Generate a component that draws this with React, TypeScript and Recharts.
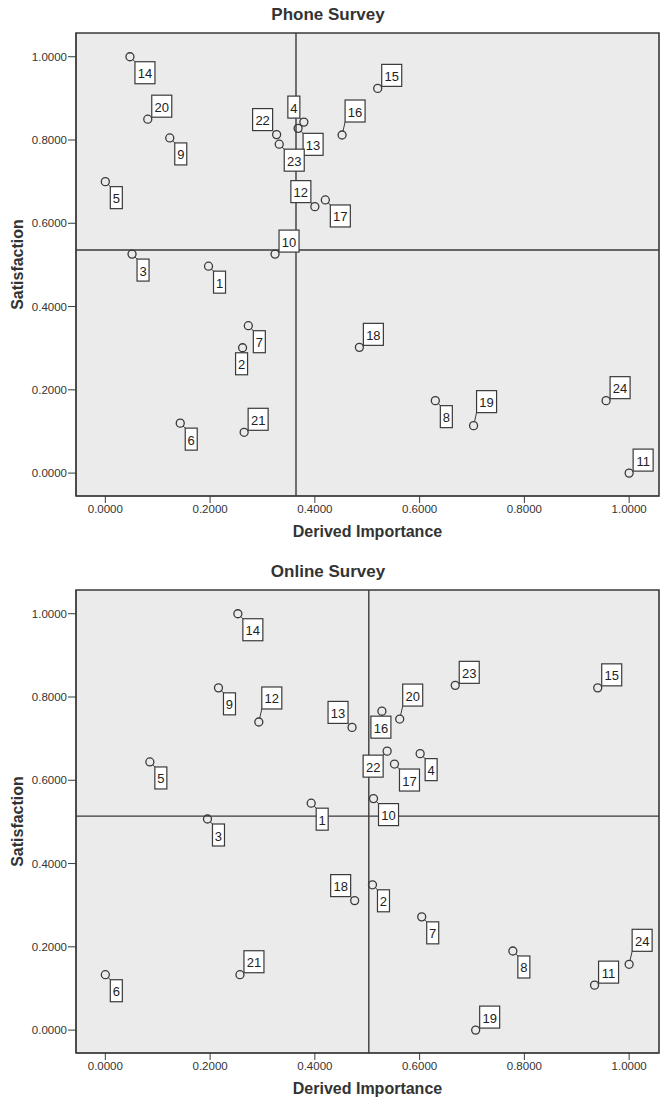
import {
  ScatterChart,
  Scatter,
  XAxis,
  YAxis,
  CartesianGrid,
  ReferenceLine,
  ReferenceArea,
} from "recharts";

// attribute ids, 1..24
const attributeIds = [
  1, 2, 3, 4, 5, 6, 7, 8, 9, 10, 11, 12, 13, 14, 15, 16, 17, 18, 19, 20, 21, 22, 23, 24,
];

const phoneImportance = [
  0.197, 0.262, 0.051, 0.379, 0.0, 0.143, 0.273, 0.63, 0.123, 0.324, 1.0, 0.4,
  0.368, 0.047, 0.52, 0.452, 0.42, 0.485, 0.703, 0.081, 0.265, 0.327, 0.332, 0.956,
];
const phoneSatisfaction = [
  0.497, 0.301, 0.526, 0.843, 0.7, 0.12, 0.354, 0.174, 0.805, 0.526, 0.0, 0.64,
  0.828, 1.0, 0.924, 0.812, 0.656, 0.302, 0.114, 0.85, 0.098, 0.813, 0.79, 0.174,
];

const onlineImportance = [
  0.393, 0.51, 0.195, 0.601, 0.085, 0.0, 0.604, 0.778, 0.216, 0.512, 0.934, 0.293,
  0.471, 0.253, 0.94, 0.528, 0.552, 0.476, 0.707, 0.562, 0.257, 0.538, 0.668, 1.0,
];
const onlineSatisfaction = [
  0.545, 0.349, 0.507, 0.664, 0.644, 0.133, 0.272, 0.19, 0.822, 0.556, 0.108, 0.74,
  0.727, 1.0, 0.822, 0.766, 0.639, 0.311, 0.0, 0.747, 0.133, 0.67, 0.828, 0.158,
];

// quadrant cut points (means)
const phoneCut = { x: 0.364, y: 0.536 };
const onlineCut = { x: 0.503, y: 0.514 };

const axisTicks = [0, 0.2, 0.4, 0.6, 0.8, 1.0];

// where each point's label box sits (styling only)
const phonePlaces = [
  "br", "b", "br", "al", "br", "br", "br", "br", "br", "ar", "ar", "al",
  "br", "br", "ar", "arl", "br", "ar", "arl", "ar", "ar", "al", "br", "ar",
];
const onlinePlaces = [
  "br", "br", "br", "br", "br", "br", "br", "br", "br", "br", "ar", "arl",
  "al", "br", "ar", "b", "br", "al", "ar", "arl", "ar", "bl", "ar", "arl",
];

const FONT = '"Liberation Sans", Arial, Helvetica, sans-serif';
const INK = "#3a3a3a";
const X_DOMAIN = [-0.056, 1.057];
const Y_DOMAIN = [-0.055, 1.057];

function LabeledPoint(props: any) {
  const { cx, cy, payload, place } = props;
  if (cx == null || cy == null) return null;
  const text = String(payload.id);
  const w = text.length > 1 ? 20 : 12;
  const h = 22;
  let ax = cx + 5;
  let ay = cy + 5;
  let bx = ax;
  let by = ay;
  if (place === "ar") {
    ax = cx + 4; ay = cy - 2; bx = ax; by = ay - h;
  } else if (place === "arl") {
    ax = cx + 3; ay = cy - 13; bx = ax; by = ay - h;
  } else if (place === "al") {
    ax = cx - 4; ay = cy - 4; bx = ax - w; by = ay - h;
  } else if (place === "bl") {
    ax = cx - 4; ay = cy + 4; bx = ax - w; by = ay;
  } else if (place === "b") {
    ax = cx; ay = cy + 5; bx = cx - w / 2 - 1; by = ay;
  }
  const r = 4;
  const dx = ax - cx;
  const dy = ay - cy;
  const d = Math.sqrt(dx * dx + dy * dy);
  return (
    <g>
      {d > r && (
        <line
          x1={cx + (dx / d) * r}
          y1={cy + (dy / d) * r}
          x2={ax}
          y2={ay}
          stroke={INK}
          strokeWidth={1}
        />
      )}
      <circle cx={cx} cy={cy} r={r} fill="none" stroke={INK} strokeWidth={1.3} />
      <rect x={bx} y={by} width={w} height={h} fill="#fff" stroke={INK} strokeWidth={1.2} />
      <text
        x={bx + w / 2}
        y={by + h / 2 + 1}
        textAnchor="middle"
        dominantBaseline="central"
        fontFamily={FONT}
        fontSize={13}
        fill="#222"
      >
        {text}
      </text>
    </g>
  );
}

function SurveyChart({ title, importance, satisfaction, places, cut, top }: any) {
  const rows = attributeIds.map((id, i) => ({
    id,
    x: importance[i],
    y: satisfaction[i],
  }));
  const tickStyle = { fontSize: 11.5, fill: "#333", fontFamily: FONT };
  return (
    <div style={{ position: "absolute", left: 0, top, width: 664, height: 546 }}>
      <div
        style={{
          position: "absolute",
          left: 0,
          top: 5,
          width: 656,
          textAlign: "center",
          fontFamily: FONT,
          fontWeight: "bold",
          fontSize: 17,
          lineHeight: "20px",
          color: "#333",
        }}
      >
        {title}
      </div>
      <ScatterChart width={664} height={546} margin={{ top: 33, right: 5, bottom: 0, left: 0 }}>
        <CartesianGrid fill="#ebebeb" horizontal={false} vertical={false} />
        <XAxis
          type="number"
          dataKey="x"
          domain={X_DOMAIN}
          ticks={axisTicks}
          allowDataOverflow
          tickFormatter={(v: number) => v.toFixed(4)}
          tickSize={7}
          height={50}
          stroke={INK}
          tick={tickStyle}
          label={{
            content: (p: any) => {
              const vb = p.viewBox || { x: 76, width: 583, y: 496, height: 50 };
              return (
                <text
                  x={vb.x + vb.width / 2}
                  y={vb.y + 41}
                  textAnchor="middle"
                  fontFamily={FONT}
                  fontWeight="bold"
                  fontSize={16}
                  fill="#333"
                >
                  Derived Importance
                </text>
              );
            },
          }}
        />
        <YAxis
          type="number"
          dataKey="y"
          domain={Y_DOMAIN}
          ticks={axisTicks}
          allowDataOverflow
          tickFormatter={(v: number) => v.toFixed(4)}
          tickSize={8}
          tickMargin={1}
          width={76}
          stroke={INK}
          tick={tickStyle}
          label={{
            content: (p: any) => {
              const vb = p.viewBox || { x: 0, width: 76, y: 33, height: 463 };
              const cy = vb.y + vb.height / 2;
              return (
                <text
                  x={17}
                  y={cy}
                  transform={`rotate(-90, 17, ${cy})`}
                  textAnchor="middle"
                  dominantBaseline="central"
                  fontFamily={FONT}
                  fontWeight="bold"
                  fontSize={16}
                  fill="#333"
                >
                  Satisfaction
                </text>
              );
            },
          }}
        />
        <Scatter
          data={rows}
          isAnimationActive={false}
          shape={(p: any) => <LabeledPoint {...p} place={places[p.payload.id - 1]} />}
        />
        <ReferenceLine x={cut.x} stroke={INK} strokeWidth={1.4} />
        <ReferenceLine y={cut.y} stroke={INK} strokeWidth={1.4} />
        <ReferenceArea
          x1={X_DOMAIN[0]}
          x2={X_DOMAIN[1]}
          y1={Y_DOMAIN[0]}
          y2={Y_DOMAIN[1]}
          fill="none"
          stroke={INK}
          strokeWidth={1.6}
          ifOverflow="visible"
        />
      </ScatterChart>
    </div>
  );
}

export default function App() {
  return (
    <div style={{ position: "absolute", left: 0, top: 0, width: 664, height: 1103, background: "#fff" }}>
      <SurveyChart
        title="Phone Survey"
        importance={phoneImportance}
        satisfaction={phoneSatisfaction}
        places={phonePlaces}
        cut={phoneCut}
        top={0}
      />
      <SurveyChart
        title="Online Survey"
        importance={onlineImportance}
        satisfaction={onlineSatisfaction}
        places={onlinePlaces}
        cut={onlineCut}
        top={557}
      />
    </div>
  );
}
